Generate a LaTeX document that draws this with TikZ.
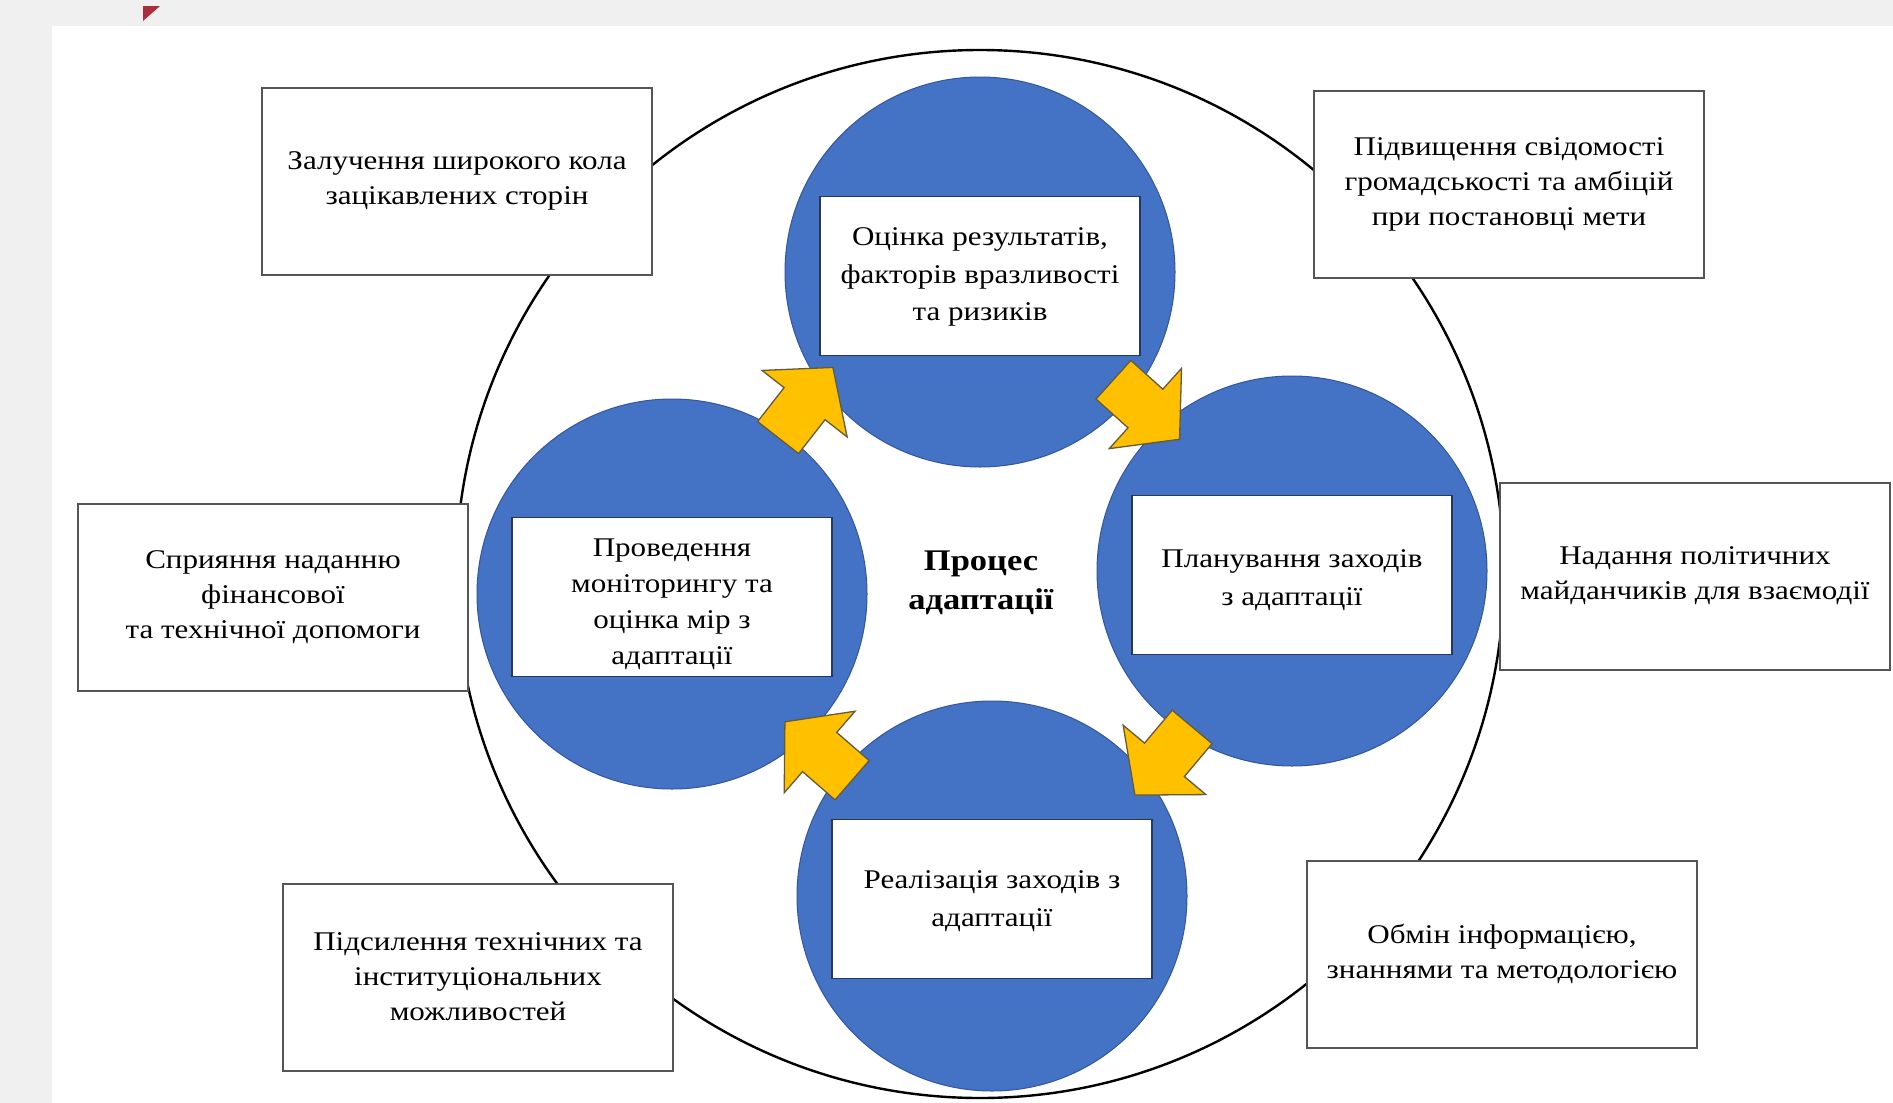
\documentclass[tikz,border=0pt]{standalone}
\usepackage{fontspec}
\setmainfont{Liberation Serif}[FakeStretch=1.15]
\usetikzlibrary{calc}

\definecolor{slidegray}{RGB}{240,240,240}
\definecolor{stageblue}{RGB}{68,114,196}
\definecolor{stageedge}{RGB}{50,86,156}
\definecolor{arrowyellow}{RGB}{255,192,0}
\definecolor{arrowedge}{RGB}{100,90,60}
\definecolor{boxedge}{RGB}{85,85,85}
\definecolor{inneredge}{RGB}{40,55,95}
\definecolor{cornerred}{RGB}{170,45,60}

\tikzset{
  yarrow/.pic={
    \filldraw[fill=arrowyellow,draw=arrowedge,line width=1.3pt,line join=miter]
      (-44.5,-26) -- (-1.5,-26) -- (-1.5,-54) -- (44.5,0) -- (-1.5,54)
      -- (-1.5,26) -- (-44.5,26) -- cycle;
  }
}

\begin{document}
\begin{tikzpicture}[x=1pt,y=-1pt,
  every node/.style={font=\fontsize{27}{35}\selectfont},
  ring/.style={circle,draw=black,line width=2.4pt,minimum size=1048pt,inner sep=0pt},
  stage/.style={circle,fill=stageblue,draw=stageedge,line width=1pt,minimum size=390pt,inner sep=0pt},
  stagebox/.style={rectangle,fill=white,draw=inneredge,line width=1.6pt,
    minimum width=320pt,minimum height=159pt,inner sep=0pt},
  stagetext/.style={align=center,inner sep=0pt,font=\fontsize{27}{37.5}\selectfont},
  factor/.style={rectangle,fill=white,draw=boxedge,line width=2pt,
    minimum width=390pt,minimum height=187pt,align=center,inner sep=2pt},
  hub/.style={align=center,font=\fontsize{30}{39}\selectfont\bfseries}
]
\useasboundingbox (0,0) rectangle (1893,1103);
% ================= slide background =================
\fill[slidegray] (0,0) rectangle (1893,1103);
\fill[white] (52,26) rectangle (1893,1103);
\fill[cornerred] (143,6) -- (160,6) -- (143,21) -- cycle;

% ================= outer ring and supporting factors =================
\node[ring] (ring) at (980,574) {};
\node[factor] (fTL) at (457,181) {Залучення широкого кола\\зацікавлених сторін};
\node[factor] (fTR) at (1509,184) {Підвищення свідомості\\громадськості та амбіцій\\при постановці мети};
\node[factor] (fL) at (273,597) {Сприяння наданню\\фінансової\\та технічної допомоги};
\node[factor] (fR) at (1695,576) {Надання політичних\\майданчиків для взаємодії};
\node[factor] (fBL) at (478,977) {Підсилення технічних та\\інституціональних\\можливостей};
\node[factor] (fBR) at (1502,954) {Обмін інформацією,\\знаннями та методологією};

% ================= adaptation cycle =================
\node[stage] (cTop) at (980,272) {};
\node[stage] (cRight) at (1292,571) {};
\node[stage] (cBottom) at (992,896) {};
\node[stage] (cLeft) at (672,594) {};
\node[stagebox,yshift=-4pt,
  label={[stagetext,name=tTop,yshift=-1pt]center:{Оцінка результатів,\\факторів вразливості\\та ризиків}}] (bTop) at (cTop) {};
\node[stagebox,yshift=-4pt,
  label={[stagetext,name=tRight,yshift=-5pt]center:{Планування заходів\\з адаптації}}] (bRight) at (cRight) {};
\node[stagebox,yshift=-3pt,
  label={[stagetext,name=tBottom,yshift=-2pt]center:{Реалізація заходів з\\адаптації}}] (bBottom) at (cBottom) {};
\node[stagebox,yshift=-3pt,
  label={[stagetext,name=tLeft,yshift=-7pt,font=\fontsize{27}{36}\selectfont]center:{Проведення\\моніторингу та\\оцінка мір з\\адаптації}}] (bLeft) at (cLeft) {};

\pic[rotate=52] at (805.5,402.5) {yarrow};
\pic[rotate=-42] at (1146.5,409.5) {yarrow};
\pic[rotate=-130] at (1163.5,761) {yarrow};
\pic[rotate=139] at (818.5,751) {yarrow};

\node[hub] (hub) at (981,583) {Процес\\адаптації};
\end{tikzpicture}
\end{document}
